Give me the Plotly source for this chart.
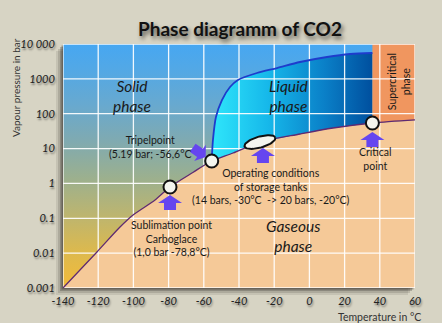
import numpy as np
import plotly.graph_objects as go

# ---------------- data ----------------
W, H = 442, 323
ML, MR, MT, MB = 63, 27, 44, 35

x_range = [-140, 60]
y_range_log = [-3, 4]
x_ticks = [-140, -120, -100, -80, -60, -40, -20, 0, 20, 40, 60]
x_ticklabels = ["-140", "-120", "-100", "-80", "-60", "-40", "-20", "0", "20", "40", "60"]
y_ticks = [0.001, 0.01, 0.1, 1, 10, 100, 1000, 10000]
y_ticklabels = ["0.001", "0.01", "0.1", "1", "10", "100", "1000", "10 000"]

# sublimation + vaporisation curve (°C, bar)
curve_T = [-140, -120.7, -107.6, -100.2, -87.7, -79.2, -66, -55.5, -43.4, -28.1, -5.3, 13.4, 35.8, 60]
curve_p = [0.001, 0.0108, 0.056, 0.124, 0.335, 0.79, 2.1, 4.4, 7.46, 15.4, 26.2, 38.9, 54.2, 66.5]

# melting curve (°C, bar)
melt_T = [-55.5, -54.8, -53.1, -49.7, -45.1, -40.6, -29.8, -18.4, -5.3, 10.0, 23.1, 35.8]
melt_p = [4.4, 17.6, 80.5, 247, 583, 927, 1473, 2048, 3046, 4240, 5166, 5524]

subl_pt = (-79.2, 0.79)
triple_pt = (-55.5, 4.4)
crit_pt = (35.8, 54.2)
tank_pt = (-28.1, 15.4)

# ---------------- colours ----------------
BG = "#d7d4c4"
GAS = "#f5c998"
SUPER = "#f0965f"
ARROW = "#6546ef"
solid_scale = [[0.0, "#f3bb3a"], [0.15, "#dcb94e"], [0.3, "#bcb570"], [0.45, "#9cb08e"],
               [0.6, "#80aab0"], [0.75, "#68a9cf"], [0.9, "#52a8e6"], [1.0, "#46a7f2"]]
liquid_scale = [[0.0, "#2fe6fb"], [0.35, "#16b8ea"], [0.7, "#0a80c8"], [1.0, "#004f9e"]]

# pixel scale of the plot area (for marks sized in pixels)
sx = (W - ML - MR) / (x_range[1] - x_range[0])
sy = (H - MT - MB) / (y_range_log[1] - y_range_log[0])


def px_offset(pt, dx, dy):
    """data point shifted by dx, dy pixels (dy downward)"""
    dx = np.asarray(dx, dtype=float)
    dy = np.asarray(dy, dtype=float)
    return pt[0] + dx / sx, 10 ** (np.log10(pt[1]) - dy / sy)


fig = go.Figure()

# background (solid phase) gradient over whole plot area
fig.add_trace(go.Scatter(
    x=[x_range[0], x_range[1], x_range[1], x_range[0], x_range[0]],
    y=[y_ticks[0], y_ticks[0], y_ticks[-1], y_ticks[-1], y_ticks[0]],
    mode="none", fill="toself",
    fillgradient=dict(type="vertical", colorscale=solid_scale),
    hoverinfo="skip", showlegend=False))

# gaseous region
fig.add_trace(go.Scatter(
    x=curve_T + [x_range[1], x_range[0]],
    y=curve_p + [y_ticks[0], y_ticks[0]],
    mode="none", fill="toself", fillcolor=GAS, hoverinfo="skip", showlegend=False))

# liquid region
vap_between = [(t, p) for t, p in zip(curve_T, curve_p) if triple_pt[0] < t < crit_pt[0]]
liq_T = melt_T + [crit_pt[0]] + [t for t, p in reversed(vap_between)] + [triple_pt[0]]
liq_p = melt_p + [crit_pt[1]] + [p for t, p in reversed(vap_between)] + [triple_pt[1]]
fig.add_trace(go.Scatter(
    x=liq_T, y=liq_p, mode="none", fill="toself",
    fillgradient=dict(type="horizontal", colorscale=liquid_scale),
    hoverinfo="skip", showlegend=False))

# supercritical region
sc_above = [(t, p) for t, p in zip(curve_T, curve_p) if t > crit_pt[0]]
fig.add_trace(go.Scatter(
    x=[crit_pt[0]] + [t for t, p in sc_above] + [x_range[1], crit_pt[0]],
    y=[crit_pt[1]] + [p for t, p in sc_above] + [y_ticks[-1], y_ticks[-1]],
    mode="none", fill="toself", fillcolor=SUPER, hoverinfo="skip", showlegend=False))

# grid lines (on top of the fills)
gx, gy = [], []
for v in x_ticks:
    gx += [v, v, None]
    gy += [y_ticks[0], y_ticks[-1], None]
for v in y_ticks:
    gx += [x_range[0], x_range[1], None]
    gy += [v, v, None]
fig.add_trace(go.Scatter(x=gx, y=gy, mode="lines",
                         line=dict(color="rgba(255,255,255,0.92)", width=1.3),
                         hoverinfo="skip", showlegend=False))

# curves
fig.add_trace(go.Scatter(x=curve_T, y=curve_p, mode="lines",
                         line=dict(color="#5e2a72", width=1.3, shape="spline", smoothing=0.8),
                         hoverinfo="skip", showlegend=False))
fig.add_trace(go.Scatter(x=melt_T, y=melt_p, mode="lines",
                         line=dict(color="#1e3ccc", width=1.8, shape="spline", smoothing=0.8),
                         hoverinfo="skip", showlegend=False))

# tank operating ellipse (drawn in pixel units around its centre)
a_px, b_px, phi = 16.0, 5.5, np.deg2rad(16)
th = np.linspace(0, 2 * np.pi, 60)
edx = a_px * np.cos(th) * np.cos(phi) - b_px * np.sin(th) * np.sin(phi)
edy = -(a_px * np.cos(th) * np.sin(phi) + b_px * np.sin(th) * np.cos(phi))
ell_T, ell_p = px_offset(tank_pt, edx, edy)
fig.add_trace(go.Scatter(x=ell_T, y=ell_p, mode="lines", fill="toself",
                         fillcolor="#f4f5ee", line=dict(color="#111", width=2),
                         hoverinfo="skip", showlegend=False))


# block arrows (pixel-sized shapes pointing at a point)
def block_arrow(pt, tip_dx, tip_dy, ux, uy, hl=8, hw=12, sw=6, L=15):
    n = np.hypot(ux, uy)
    ux, uy = ux / n, uy / n          # direction of pointing (pixels, y down)
    nx, ny = -uy, ux                 # perpendicular
    local = [(0, 0), (-hl, hw), (-hl, sw), (-L, sw), (-L, -sw), (-hl, -sw), (-hl, -hw), (0, 0)]
    dxs = [tip_dx + a * ux + b * nx for a, b in local]
    dys = [tip_dy + a * uy + b * ny for a, b in local]
    xs, ys = px_offset(pt, dxs, dys)
    fig.add_trace(go.Scatter(x=xs, y=ys, mode="none", fill="toself", fillcolor=ARROW,
                             hoverinfo="skip", showlegend=False))


block_arrow(subl_pt, 0, 8, 0, -1)
block_arrow(crit_pt, 0, 9, 0, -1)
block_arrow(tank_pt, 3, 6, 0, -1)
block_arrow(triple_pt, -6, -4, 14, 10, hl=7, hw=10, sw=5, L=16)

# points
fig.add_trace(go.Scatter(
    x=[subl_pt[0], triple_pt[0], crit_pt[0]],
    y=[subl_pt[1], triple_pt[1], crit_pt[1]],
    mode="markers",
    marker=dict(size=13, color="#f4f5ee", line=dict(color="#111", width=2)),
    hoverinfo="skip", showlegend=False))

# ---------------- text ----------------
FONT = "Lato"
ann = []


def label(x, y, text, size=10.5, italic=False, angle=0, color="#1a1a1a"):
    ann.append(dict(x=x, y=np.log10(y), xref="x", yref="y", text=text, showarrow=False,
                    textangle=angle, align="center", xanchor="center", yanchor="middle",
                    font=dict(family=FONT, size=size, color=color,
                              style="italic" if italic else "normal")))


label(-100.8, 10 ** 2.508, "Solid<br>phase", size=15.5, italic=True)
label(-11.6, 10 ** 2.508, "Liquid<br>phase", size=15.5, italic=True)
label(-9.3, 10 ** -1.508, "Gaseous<br>phase", size=15.5, italic=True)
label(51.0, 10 ** 2.91, "Supercritical<br>phase", size=10.5, angle=-90)
label(-90.5, 10 ** 1.05, "Tripelpoint<br>(5.19 bar; -56,6°C", size=10.5)
label(-22.0, 10 ** -0.074, "Operating conditions<br>of storage tanks<br>(14 bars, -30°C  -> 20 bars, -20°C)", size=10.5)
label(-78.1, 10 ** -1.594, "Sublimation point<br>Carboglace<br>(1,0 bar -78,8°C)", size=10.5)
label(37.8, 10 ** 0.70, "Critical<br>point", size=10.5)

# axis titles
ann.append(dict(x=(16 - ML) / (W - ML - MR), y=1 - (88 - MT) / (H - MT - MB), xref="paper", yref="paper",
                xanchor="center", yanchor="middle",
                text="Vapour pressure in bar", showarrow=False, textangle=-90,
                font=dict(family=FONT, size=10, color="#333")))
ann.append(dict(x=(379 - ML) / (W - ML - MR), y=-(317 - (H - MB)) / (H - MT - MB), xref="paper", yref="paper",
                xanchor="center", yanchor="middle",
                text="Temperature in °C", showarrow=False,
                font=dict(family=FONT, size=10.5, color="#333")))

# shadow of the plot area
shapes = []
for off, op in [(7, 0.10), (5, 0.15), (3, 0.25), (1.5, 0.35)]:
    shapes.append(dict(type="rect", xref="paper", yref="paper", layer="below",
                       x0=-off / (W - ML - MR), x1=1 - off / (W - ML - MR),
                       y0=-off / (H - MT - MB), y1=1 - off / (H - MT - MB),
                       line=dict(width=0), fillcolor=f"rgba(40,35,30,{op})"))

tickfont = dict(family=FONT, size=11, color="#222", style="italic",
                shadow="1px 2px 2px rgba(0,0,0,0.45)")

fig.update_layout(
    width=W, height=H,
    margin=dict(l=ML, r=MR, t=MT, b=MB),
    paper_bgcolor=BG, plot_bgcolor=BG,
    title=dict(text="<b>Phase diagramm of CO2</b>", x=(240 - ML) / (W - ML - MR), xref="paper",
               xanchor="center", y=1 - 29 / H, yref="container", yanchor="middle",
               font=dict(family=FONT, size=19, color="#111",
                         shadow="2px 3px 4px rgba(0,0,0,0.6)")),
    xaxis=dict(range=x_range, tickvals=x_ticks, ticktext=x_ticklabels, showgrid=False, zeroline=False,
               showline=False, ticks="outside", ticklen=3, tickcolor="rgba(0,0,0,0)",
               tickfont=tickfont, fixedrange=True),
    yaxis=dict(type="log", range=y_range_log, tickvals=y_ticks, ticktext=y_ticklabels,
               showgrid=False, zeroline=False, showline=False, ticks="outside",
               ticklen=5, tickcolor="rgba(0,0,0,0)", tickfont=tickfont, fixedrange=True),
    annotations=ann, shapes=shapes,
    showlegend=False,
)

fig.write_html("out.html")
